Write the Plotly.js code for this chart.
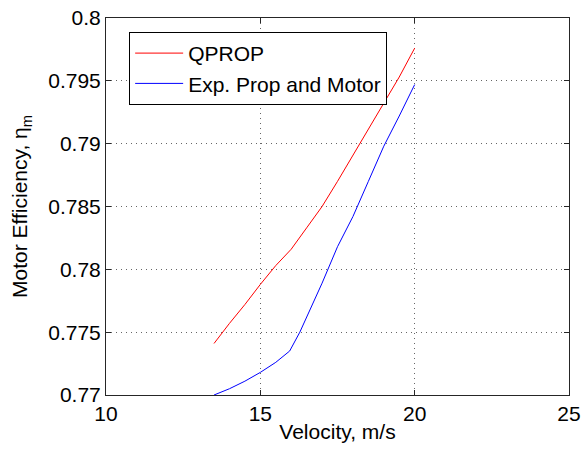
<!DOCTYPE html>
<html>
<head>
<meta charset="utf-8">
<script src="https://cdn.plot.ly/plotly-3.0.1.min.js"></script>
<style>html,body{margin:0;padding:0;background:#fff;}#chart{width:582px;height:449px;}</style>
</head>
<body>
<div id="chart"></div>
<script>
const qpropVelocity = [13.5, 14, 14.5, 15, 15.5, 16, 16.5, 17, 17.5, 18, 18.5, 19, 19.5, 20];
const qpropEfficiency = [0.7741, 0.7757, 0.7772, 0.7788, 0.7803, 0.7816, 0.7833, 0.7850, 0.7870, 0.7891, 0.7912, 0.7932, 0.7953, 0.7976];
const expVelocity = [13.5, 14, 14.5, 15, 15.5, 15.95, 16.28, 16.5, 17, 17.5, 18, 18.5, 19, 19.5, 20];
const expEfficiency = [0.7700, 0.7705, 0.7711, 0.7718, 0.7726, 0.7735, 0.7750, 0.7762, 0.7789, 0.7818, 0.7842, 0.7870, 0.7898, 0.7922, 0.7947];

const font = {family: 'Liberation Sans, Arial, sans-serif', size: 21, color: '#000'};

const traces = [
  {x: qpropVelocity, y: qpropEfficiency, type: 'scatter', mode: 'lines', name: 'QPROP',
   line: {color: '#ff0000', width: 1}},
  {x: expVelocity, y: expEfficiency, type: 'scatter', mode: 'lines', name: 'Exp. Prop and Motor',
   line: {color: '#0000ff', width: 1}}
];

const axisCommon = {
  showline: true, linecolor: '#262626', linewidth: 1, mirror: 'ticks',
  ticks: 'inside', ticklen: 5, tickcolor: '#262626',
  showgrid: true, gridcolor: '#666', griddash: '1px,4px', gridwidth: 1,
  zeroline: false, tickfont: font
};

const layout = {
  width: 582, height: 449,
  margin: {l: 106, r: 13, t: 18, b: 54},
  paper_bgcolor: '#fff', plot_bgcolor: '#fff',
  font: font,
  showlegend: true,
  legend: {x: 0.05, y: 0.963, xanchor: 'left', yanchor: 'top',
           bordercolor: '#000', borderwidth: 1, bgcolor: '#fff', font: font,
           tracegroupgap: 0, itemwidth: 48},
  xaxis: Object.assign({}, axisCommon, {range: [10, 25], dtick: 5, tick0: 10,
           title: {text: 'Velocity, m/s', font: font, standoff: 0}}),
  yaxis: Object.assign({}, axisCommon, {range: [0.77, 0.8], dtick: 0.005, tick0: 0.77,
           title: {text: 'Motor Efficiency, η<sub>m</sub>', font: font, standoff: 14}})
};

Plotly.newPlot('chart', traces, layout, {displayModeBar: false, staticPlot: true});
</script>
</body>
</html>
